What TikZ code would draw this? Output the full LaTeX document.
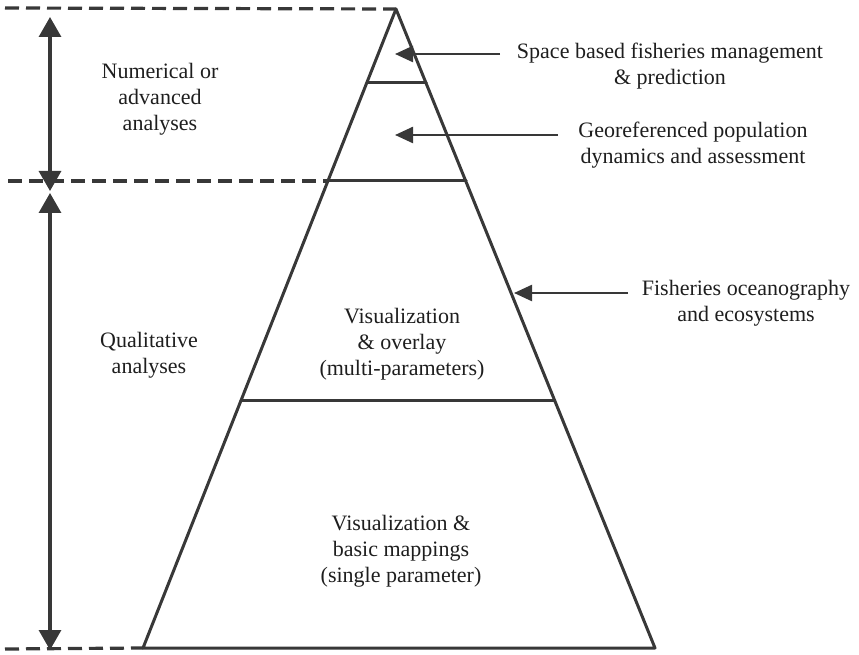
\documentclass[tikz,border=0pt]{standalone}
\usepackage{fontspec}
\setmainfont{Liberation Serif}
\usetikzlibrary{arrows.meta}
\definecolor{ink}{HTML}{383838}
\definecolor{txt}{HTML}{1E1E1E}
\begin{document}
\begin{tikzpicture}[x=1pt,y=-1pt,
  edge/.style={draw=ink,line width=3pt,line cap=round,line join=round},
  dashline/.style={draw=ink,line width=3.2pt,dash pattern=on 14pt off 7pt},
  pointer/.style={draw=ink,line width=2.4pt,-{Triangle[length=18pt,width=16pt]}},
  bigarrow/.style={draw=ink,line width=3.2pt,-{Triangle[length=20pt,width=22pt]}},
  label/.style={text=txt,align=center,inner sep=0pt,font=\fontsize{22}{26}\selectfont}]
\useasboundingbox (0,0) rectangle (859,655);
% pyramid corners
\coordinate (apex) at (396,9);
\coordinate (bl) at (143,648);
\coordinate (br) at (655,648);
\coordinate (l1) at (367,83);  \coordinate (r1) at (426,83);
\coordinate (l2) at (328,181); \coordinate (r2) at (466,181);
\coordinate (l3) at (241,400); \coordinate (r3) at (554,400);
% dashed guide lines
\coordinate (d1) at (5,8);
\coordinate (d2) at (8,181);
\coordinate (d3) at (5,649);
\draw[dashline] (d1) -- (apex);
\draw[dashline] (d2) -- (l2);
\draw[dashline] (d3) -- (bl);
% pyramid
\draw[edge] (apex) -- (bl) -- (br) -- cycle;
\draw[edge] (l1) -- (r1);
\draw[edge] (l2) -- (r2);
\draw[edge] (l3) -- (r3);
% left double arrows
\coordinate (a1) at (50,98);
\coordinate (a1t) at (50,17);
\coordinate (a1b) at (50,191);
\coordinate (a2) at (50,420);
\coordinate (a2t) at (50,193);
\coordinate (a2b) at (50,650);
\draw[bigarrow] (a1) -- (a1t);
\draw[bigarrow] (a1) -- (a1b);
\draw[bigarrow] (a2) -- (a2t);
\draw[bigarrow] (a2) -- (a2b);
% labels
\node[label] (num) at (160,99) {Numerical or\\advanced\\analyses};
\node[label] (qual) at (149,355) {Qualitative\\analyses};
\node[label] (over) at (402,344) {Visualization\\\& overlay\\(multi-parameters)};
\node[label] (basic) at (401,551) {Visualization \&\\basic mappings\\(single parameter)};
\node[label] (space) at (670,66) {Space based fisheries management\\\& prediction};
\node[label] (geo) at (693,145) {Georeferenced population\\dynamics and assessment};
\node[label] (ocean) at (746,303) {Fisheries oceanography\\and ecosystems};
% pointer arrows
\coordinate (s1) at (500,54);  \coordinate (t1) at (395,54);
\coordinate (s2) at (558,135); \coordinate (t2) at (395,135);
\coordinate (s3) at (628,293); \coordinate (t3) at (514,293);
\draw[pointer] (s1) -- (t1);
\draw[pointer] (s2) -- (t2);
\draw[pointer] (s3) -- (t3);
\end{tikzpicture}
\end{document}
